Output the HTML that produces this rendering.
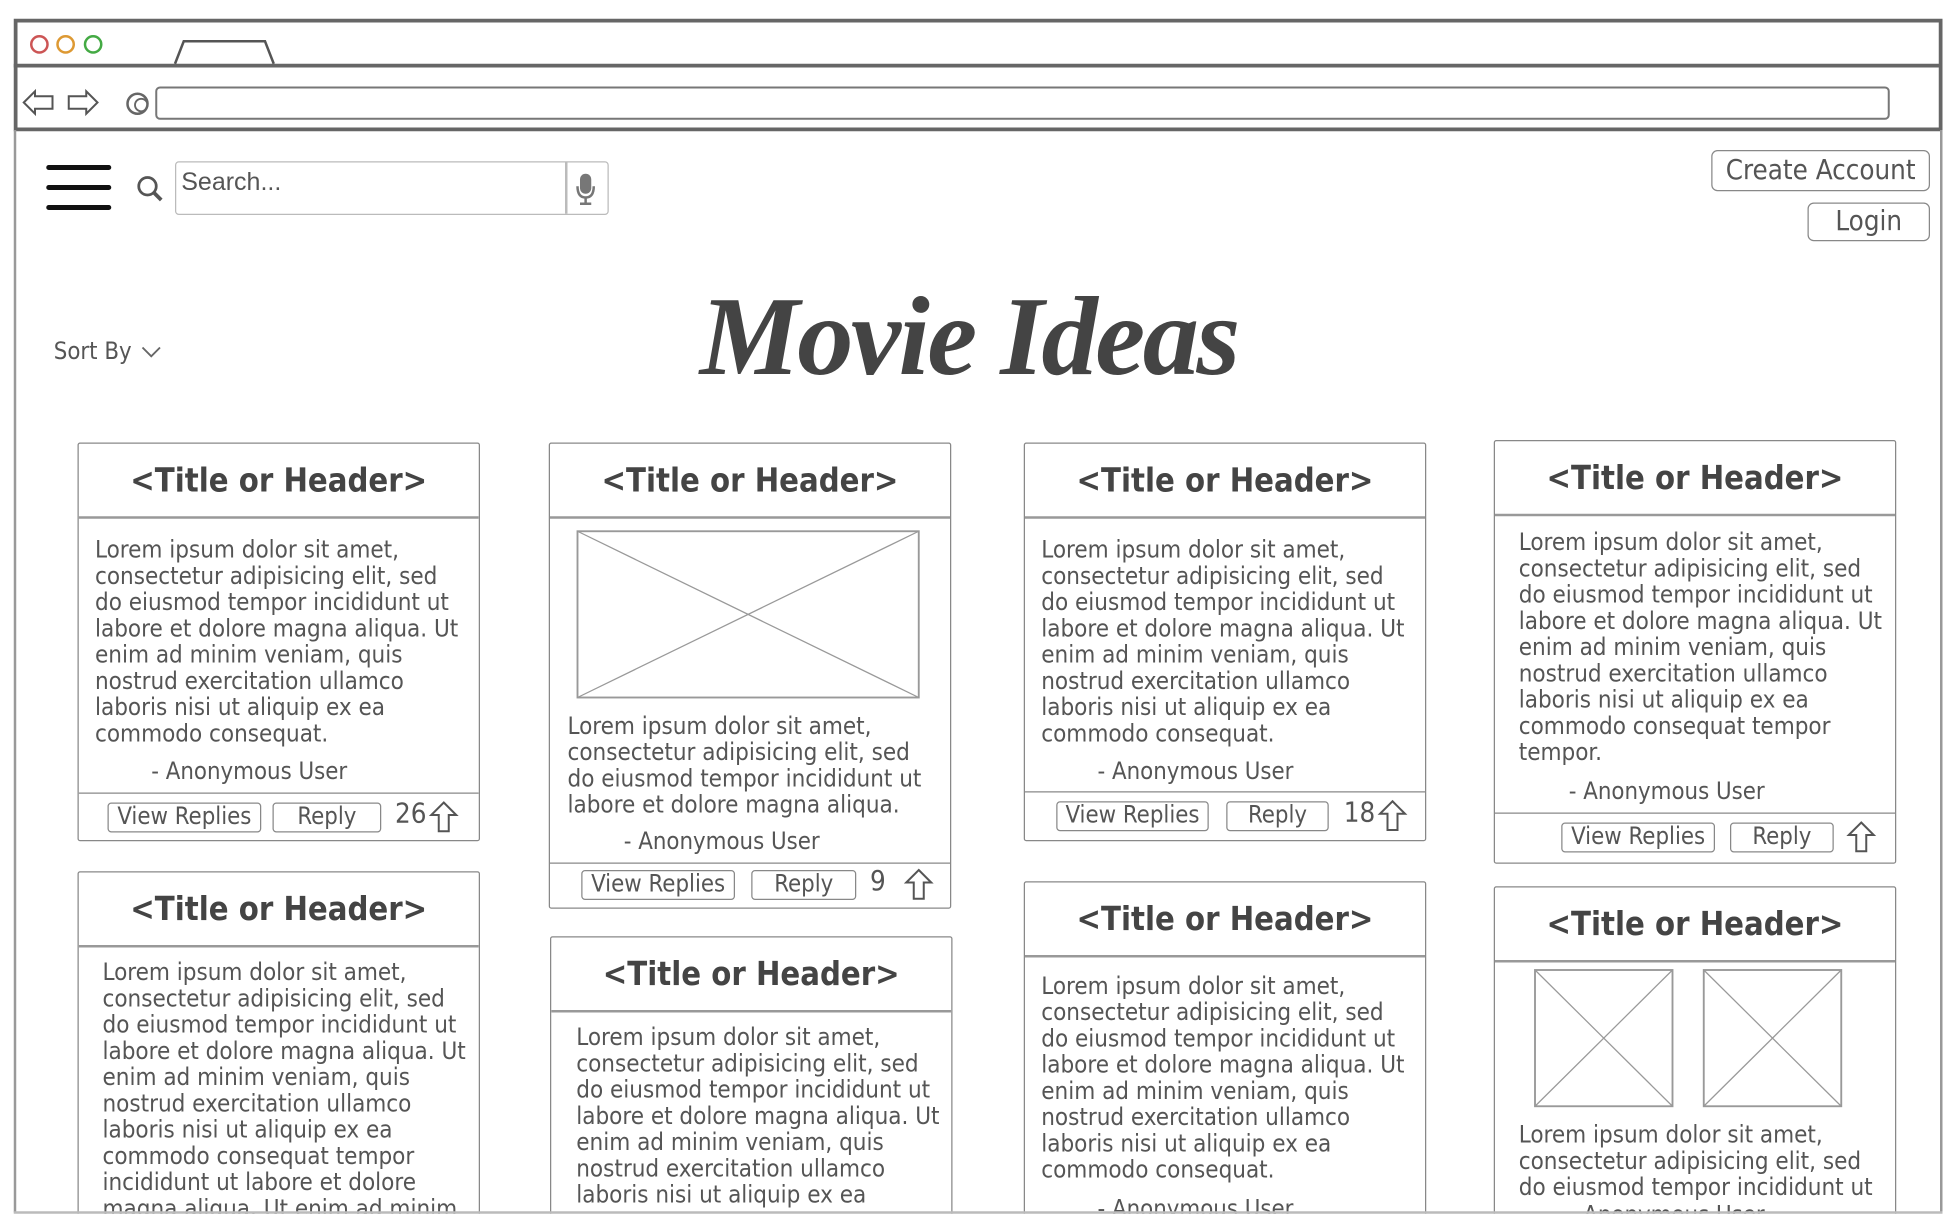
<!DOCTYPE html>
<html><head><meta charset="utf-8"><style>
*{box-sizing:border-box;margin:0;padding:0}
html,body{width:1954px;height:1228px;overflow:hidden}
body{background:#fff;font-family:"DejaVu Sans Condensed","DejaVu Sans",sans-serif;color:#555;position:relative}
#s{position:absolute;left:0;top:0;width:1563px;height:982px;transform:scale(1.25);transform-origin:0 0;overflow:hidden}
.a{position:absolute}
.card{position:absolute;border:1.5px solid #888;border-radius:2px;background:#fff;overflow:hidden;width:322px}
.card h2{position:absolute;left:0;right:0;top:0;height:60px;border-bottom:2px solid #999;font-size:26px;font-weight:bold;text-align:center;line-height:60px;color:#444}
.txt{position:absolute;font-size:19.2px;line-height:21px;color:#555;white-space:nowrap}
.auth{position:absolute;font-size:19px;line-height:22px;color:#555}
.foot{position:absolute;left:0;right:0;border-top:1.5px solid #888}
.btn{position:absolute;border:1.2px solid #888;border-radius:3px;font-size:19px;text-align:center;line-height:21px;height:24px;color:#555}
.num{position:absolute;font-size:22px;color:#555}
</style></head><body><div id="s">
<div class="a" style="left:11px;top:15px;width:1543px;height:90px;border:3px solid #666"></div>
<div class="a" style="left:11px;top:51px;width:1543px;height:3px;background:#666"></div>
<div class="a" style="left:11px;top:104px;width:1.5px;height:866px;background:#999"></div>
<div class="a" style="left:1552px;top:104px;width:1.5px;height:866px;background:#999"></div>
<div class="a" style="left:24px;top:28px;width:15px;height:15px;border:2px solid #c55;border-radius:50%"></div>
<div class="a" style="left:45px;top:28px;width:15px;height:15px;border:2px solid #d93;border-radius:50%"></div>
<div class="a" style="left:67px;top:28px;width:15px;height:15px;border:2px solid #4a4;border-radius:50%"></div>
<svg class="a" style="left:0;top:0" width="1563" height="110">
<path d="M140 51 L147 33 L212 33 L219 51" fill="none" stroke="#555" stroke-width="2"/>
<path d="M19 82 L28 73 L28 77 L42 77 L42 87 L28 87 L28 91 Z" fill="none" stroke="#555" stroke-width="1.6"/>
<path d="M78 82 L69 73 L69 77 L55 77 L55 87 L69 87 L69 91 Z" fill="none" stroke="#555" stroke-width="1.6"/>
<circle cx="110" cy="83" r="8" fill="none" stroke="#666" stroke-width="2"/>
<circle cx="113" cy="84" r="5" fill="none" stroke="#666" stroke-width="1.5"/>
<rect x="125" y="70" width="1386" height="25" rx="3" fill="none" stroke="#777" stroke-width="1.6"/>
</svg>
<div class="a" style="left:37px;top:132px;width:52px;height:4px;background:#111;border-radius:2px"></div>
<div class="a" style="left:37px;top:148px;width:52px;height:4px;background:#111;border-radius:2px"></div>
<div class="a" style="left:37px;top:164px;width:52px;height:4px;background:#111;border-radius:2px"></div>
<svg class="a" style="left:108px;top:139px" width="26" height="26"><circle cx="10" cy="10" r="7" fill="none" stroke="#555" stroke-width="2.2"/><line x1="15" y1="15" x2="21" y2="21" stroke="#555" stroke-width="3"/></svg>
<div class="a" style="left:140px;top:129px;width:347px;height:43px;border:1.5px solid #bbb;border-radius:3px"></div>
<div class="a" style="left:452px;top:130px;width:1.5px;height:41px;background:#bbb"></div>
<div class="a" style="left:145px;top:135px;font-size:20px;color:#555;font-family:'Liberation Sans',sans-serif">Search...</div>
<svg class="a" style="left:458px;top:137px" width="22" height="30"><rect x="6" y="2" width="9" height="16" rx="4.5" fill="#777"/><path d="M4 12 Q4 21 10.5 21 Q17 21 17 12" fill="none" stroke="#777" stroke-width="2"/><rect x="9.5" y="21" width="2" height="4" fill="#777"/><rect x="6" y="25" width="9" height="2" fill="#777"/></svg>
<div class="btn" style="left:1369px;top:120px;width:175px;height:33px;line-height:31px;font-size:22px;border-width:1.5px;border-radius:5px">Create Account</div>
<div class="btn" style="left:1446px;top:162px;width:98px;height:31px;line-height:29px;font-size:22px;border-width:1.5px;border-radius:5px">Login</div>
<div class="a" style="left:43px;top:270px;font-size:19px;color:#555">Sort By</div>
<svg class="a" style="left:112px;top:276px" width="18" height="12"><path d="M2 2 L9 9 L16 2" fill="none" stroke="#666" stroke-width="1.5"/></svg>
<div class="a" style="left:545px;top:218px;width:460px;text-align:center;font-family:'Liberation Serif',serif;font-style:italic;font-weight:bold;font-size:90px;color:#444;letter-spacing:-2px">Movie Ideas</div>

<div class="card" style="left:62px;top:354px;height:319px">
<h2>&lt;Title or Header&gt;</h2>
<div class="txt" style="left:13px;top:74px">Lorem ipsum dolor sit amet,<br>consectetur adipisicing elit, sed<br>do eiusmod tempor incididunt ut<br>labore et dolore magna aliqua. Ut<br>enim ad minim veniam, quis<br>nostrud exercitation ullamco<br>laboris nisi ut aliquip ex ea<br>commodo consequat.</div>
<div class="auth" style="left:58px;top:251px">- Anonymous User</div>
<div class="foot" style="top:279px"></div>
<div class="btn" style="left:23px;top:287px;width:123px">View Replies</div>
<div class="btn" style="left:155px;top:287px;width:87px">Reply</div>
<div class="num" style="left:253px;top:284px">26</div>
<svg class="a" style="left:280px;top:285px" width="26" height="28"><path d="M12 2 L22 12 L16 12 L16 25 L8 25 L8 12 L2 12 Z" fill="none" stroke="#555" stroke-width="1.6"/></svg>
</div>
<div class="card" style="left:62px;top:697px;height:279px">
<h2>&lt;Title or Header&gt;</h2>
<div class="txt" style="left:19px;top:69px">Lorem ipsum dolor sit amet,<br>consectetur adipisicing elit, sed<br>do eiusmod tempor incididunt ut<br>labore et dolore magna aliqua. Ut<br>enim ad minim veniam, quis<br>nostrud exercitation ullamco<br>laboris nisi ut aliquip ex ea<br>commodo consequat tempor<br>incididunt ut labore et dolore<br>magna aliqua. Ut enim ad minim</div>
</div>
<div class="card" style="left:439px;top:354px;height:373px">
<h2>&lt;Title or Header&gt;</h2>
<svg class="a" style="left:21px;top:69px" width="275" height="135"><rect x="1" y="1" width="273" height="133" fill="none" stroke="#999" stroke-width="1.5"/><line x1="1" y1="1" x2="274" y2="134" stroke="#999"/><line x1="274" y1="1" x2="1" y2="134" stroke="#999"/></svg>
<div class="txt" style="left:14px;top:215px">Lorem ipsum dolor sit amet,<br>consectetur adipisicing elit, sed<br>do eiusmod tempor incididunt ut<br>labore et dolore magna aliqua.</div>
<div class="auth" style="left:59px;top:307px">- Anonymous User</div>
<div class="foot" style="top:335px"></div>
<div class="btn" style="left:25px;top:341px;width:123px">View Replies</div>
<div class="btn" style="left:161px;top:341px;width:84px">Reply</div>
<div class="num" style="left:256px;top:338px">9</div>
<svg class="a" style="left:283px;top:339px" width="26" height="28"><path d="M12 2 L22 12 L16 12 L16 25 L8 25 L8 12 L2 12 Z" fill="none" stroke="#555" stroke-width="1.6"/></svg>
</div>
<div class="card" style="left:440px;top:749px;height:227px">
<h2>&lt;Title or Header&gt;</h2>
<div class="txt" style="left:20px;top:69px">Lorem ipsum dolor sit amet,<br>consectetur adipisicing elit, sed<br>do eiusmod tempor incididunt ut<br>labore et dolore magna aliqua. Ut<br>enim ad minim veniam, quis<br>nostrud exercitation ullamco<br>laboris nisi ut aliquip ex ea</div>
</div>
<div class="card" style="left:819px;top:354px;height:319px">
<h2>&lt;Title or Header&gt;</h2>
<div class="txt" style="left:13px;top:74px">Lorem ipsum dolor sit amet,<br>consectetur adipisicing elit, sed<br>do eiusmod tempor incididunt ut<br>labore et dolore magna aliqua. Ut<br>enim ad minim veniam, quis<br>nostrud exercitation ullamco<br>laboris nisi ut aliquip ex ea<br>commodo consequat.</div>
<div class="auth" style="left:58px;top:251px">- Anonymous User</div>
<div class="foot" style="top:278px"></div>
<div class="btn" style="left:25px;top:286px;width:122px">View Replies</div>
<div class="btn" style="left:161px;top:286px;width:82px">Reply</div>
<div class="num" style="left:255px;top:283px">18</div>
<svg class="a" style="left:282px;top:284px" width="26" height="28"><path d="M12 2 L22 12 L16 12 L16 25 L8 25 L8 12 L2 12 Z" fill="none" stroke="#555" stroke-width="1.6"/></svg>
</div>
<div class="card" style="left:819px;top:705px;height:271px">
<h2>&lt;Title or Header&gt;</h2>
<div class="txt" style="left:13px;top:72px">Lorem ipsum dolor sit amet,<br>consectetur adipisicing elit, sed<br>do eiusmod tempor incididunt ut<br>labore et dolore magna aliqua. Ut<br>enim ad minim veniam, quis<br>nostrud exercitation ullamco<br>laboris nisi ut aliquip ex ea<br>commodo consequat.</div>
<div class="auth" style="left:58px;top:250px">- Anonymous User</div>
</div>
<div class="card" style="left:1195px;top:352px;height:339px">
<h2>&lt;Title or Header&gt;</h2>
<div class="txt" style="left:19px;top:70px">Lorem ipsum dolor sit amet,<br>consectetur adipisicing elit, sed<br>do eiusmod tempor incididunt ut<br>labore et dolore magna aliqua. Ut<br>enim ad minim veniam, quis<br>nostrud exercitation ullamco<br>laboris nisi ut aliquip ex ea<br>commodo consequat tempor<br>tempor.</div>
<div class="auth" style="left:59px;top:269px">- Anonymous User</div>
<div class="foot" style="top:297px"></div>
<div class="btn" style="left:53px;top:305px;width:123px">View Replies</div>
<div class="btn" style="left:188px;top:305px;width:83px">Reply</div>
<svg class="a" style="left:281px;top:303px" width="26" height="28"><path d="M12 2 L22 12 L16 12 L16 25 L8 25 L8 12 L2 12 Z" fill="none" stroke="#555" stroke-width="1.6"/></svg>
</div>
<div class="card" style="left:1195px;top:709px;height:267px">
<h2>&lt;Title or Header&gt;</h2>
<svg class="a" style="left:31px;top:65px" width="112" height="111"><rect x="1" y="1" width="110" height="109" fill="none" stroke="#999" stroke-width="1.5"/><line x1="1" y1="1" x2="111" y2="110" stroke="#999"/><line x1="111" y1="1" x2="1" y2="110" stroke="#999"/></svg>
<svg class="a" style="left:166px;top:65px" width="112" height="111"><rect x="1" y="1" width="110" height="109" fill="none" stroke="#999" stroke-width="1.5"/><line x1="1" y1="1" x2="111" y2="110" stroke="#999"/><line x1="111" y1="1" x2="1" y2="110" stroke="#999"/></svg>
<div class="txt" style="left:19px;top:187px">Lorem ipsum dolor sit amet,<br>consectetur adipisicing elit, sed<br>do eiusmod tempor incididunt ut</div>
<div class="auth" style="left:59px;top:251px">- Anonymous User</div>
</div>
<div class="a" style="left:0;top:971px;width:1563px;height:11px;background:#fff"></div>
<div class="a" style="left:11px;top:969px;width:1543px;height:1.5px;background:#bbb"></div>
</div></body></html>
